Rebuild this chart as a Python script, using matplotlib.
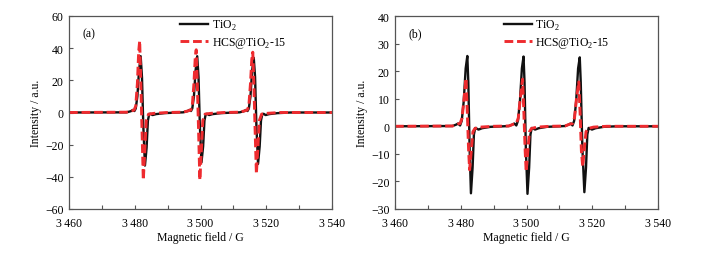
import matplotlib
matplotlib.use("Agg")
import matplotlib.pyplot as plt

plt.rcParams['font.family'] = ['Liberation Serif', 'DejaVu Serif']
plt.rcParams['mathtext.fontset'] = 'custom'
plt.rcParams['mathtext.rm'] = 'Liberation Serif'
plt.rcParams['font.size'] = 8.5

# panel (a)
a_tio2_field = [3460, 3477.5, 3478.8, 3479.4, 3479.9, 3480.3, 3480.8, 3481.3, 3481.8, 3482.2, 3482.6, 3483.1,
                3483.6, 3484.0, 3484.4, 3484.8, 3485.4, 3486.5, 3489.0, 3493.0,
                3494.7, 3496.0, 3496.6, 3497.1, 3497.5, 3498.0, 3498.5, 3499.0, 3499.4, 3499.8, 3500.3,
                3500.8, 3501.2, 3501.6, 3502.0, 3502.6, 3503.7, 3506.2, 3510.2,
                3511.9, 3513.2, 3513.8, 3514.3, 3514.7, 3515.2, 3515.7, 3516.2, 3516.6, 3517.0, 3517.5,
                3518.0, 3518.4, 3518.8, 3519.2, 3519.8, 3520.9, 3523.4, 3527.4, 3540]
a_tio2_int = [0, 0.1, 0.8, 1.6, 0.9, 2.5, 10, 26, 35, 22, -8, -33,
              -22, -5, -1.0, -0.8, -1.6, -1.0, -0.4, 0,
              0.1, 0.8, 1.6, 0.9, 2.5, 10, 26, 35, 22, -8, -31,
              -21, -5, -1.0, -0.8, -1.6, -1.0, -0.4, 0,
              0.1, 0.8, 1.6, 0.9, 2.5, 10, 26, 34, 22, -8, -32,
              -21, -5, -1.0, -0.8, -1.6, -1.0, -0.4, 0, 0]

a_hcs_field = [3460, 3477.5, 3479.0, 3479.8, 3480.3, 3480.8, 3481.2, 3481.5, 3481.8, 3482.2, 3482.6, 3483.0,
               3483.5, 3484.2, 3486.0, 3490.0,
               3494.7, 3496.2, 3497.0, 3497.5, 3498.0, 3498.4, 3498.7, 3499.0, 3499.4, 3499.8, 3500.2,
               3500.7, 3501.4, 3503.2, 3507.2,
               3511.9, 3513.4, 3514.2, 3514.7, 3515.2, 3515.6, 3515.9, 3516.2, 3516.6, 3517.0, 3517.4,
               3517.9, 3518.6, 3520.4, 3524.4, 3540]
a_hcs_int = [0, 0.2, 1.0, 1.5, 4, 18, 38, 44.5, 22, -10, -42, -26,
             -5, -1.0, -0.5, 0,
             0.2, 1.0, 1.5, 4, 18, 34, 39, 20, -10, -42, -26,
             -5, -1.0, -0.5, 0,
             0.2, 1.0, 1.5, 4, 18, 33, 37.5, 20, -10, -38, -24,
             -5, -1.0, -0.5, 0, 0]

# panel (b)
b_tio2_field = [3460, 3477.5, 3478.6, 3479.2, 3479.8, 3480.3, 3480.9, 3481.5, 3482.0, 3482.3, 3482.7, 3483.1,
                3483.6, 3484.0, 3484.4, 3484.8, 3485.4, 3486.5, 3489.0, 3493.0,
                3494.6, 3495.7, 3496.3, 3496.9, 3497.4, 3498.0, 3498.6, 3499.1, 3499.4, 3499.8, 3500.3,
                3500.8, 3501.2, 3501.6, 3502.0, 3502.6, 3503.7, 3506.2, 3510.2,
                3511.7, 3512.8, 3513.4, 3514.0, 3514.5, 3515.1, 3515.7, 3516.2, 3516.5, 3517.0, 3517.6,
                3518.1, 3518.5, 3518.9, 3519.3, 3519.9, 3521.0, 3523.5, 3527.5, 3540]
b_tio2_int = [0, 0.1, 0.6, 1.0, 0.3, 2, 9, 21, 25.5, 16, -8, -24.3,
              -15, -3, -0.6, -0.8, -1.2, -0.7, -0.2, 0,
              0.1, 0.6, 1.0, 0.3, 2, 9, 21, 25.3, 16, -8, -24.5,
              -15, -3, -0.6, -0.8, -1.2, -0.7, -0.2, 0,
              0.1, 0.6, 1.0, 0.3, 2, 9, 21, 25, 16, -8, -23.9,
              -15, -3, -0.6, -0.8, -1.2, -0.7, -0.2, 0, 0]

b_hcs_field = [3460, 3477.5, 3479.0, 3479.8, 3480.4, 3481.0, 3481.6, 3482.0, 3482.4, 3482.7, 3483.2,
               3483.7, 3484.3, 3486.0, 3490.0,
               3494.6, 3496.1, 3496.9, 3497.5, 3498.1, 3498.8, 3499.2, 3499.6, 3499.9, 3500.4,
               3500.9, 3501.5, 3503.2, 3507.2,
               3511.7, 3513.2, 3514.0, 3514.6, 3515.2, 3515.9, 3516.3, 3516.7, 3517.1, 3517.6,
               3518.1, 3518.7, 3520.4, 3524.4, 3540]
b_hcs_int = [0, 0.1, 0.8, 1.0, 3, 10, 17.4, 5, -9, -15.8, -9,
             -2, -0.8, -0.3, 0,
             0.1, 0.8, 1.0, 3, 10, 17.1, 5, -9, -16.4, -9,
             -2, -0.8, -0.3, 0,
             0.1, 0.8, 1.0, 3, 10, 16.1, 5, -9, -14.6, -8,
             -2, -0.8, -0.3, 0, 0]

x_ticks = [3460, 3480, 3500, 3520, 3540]
x_ticklabels = ['3\u2009460', '3\u2009480', '3\u2009500', '3\u2009520', '3\u2009540']
a_yticks = [-60, -40, -20, 0, 20, 40, 60]
b_yticks = [-30, -20, -10, 0, 10, 20, 30, 40]

black = '#111111'
red = '#ee2b2f'
spine = '#555555'

fig = plt.figure(figsize=(7.01, 2.55), dpi=100)
ax_a = fig.add_axes([69 / 701, 45 / 255, 263 / 701, 193 / 255])
ax_b = fig.add_axes([395 / 701, 45 / 255, 263 / 701, 193 / 255])

panels = [
    (ax_a, a_tio2_field, a_tio2_int, a_hcs_field, a_hcs_int, a_yticks, (-60, 60), '(a)', 0.414),
    (ax_b, b_tio2_field, b_tio2_int, b_hcs_field, b_hcs_int, b_yticks, (-30, 40), '(b)', 0.406),
]

for ax, f1, i1, f2, i2, yt, ylim, tag, lx in panels:
    ax.plot(f1, i1, color=black, lw=1.7, label=r'TiO$_2$')
    ax.plot(f2, i2, color=red, lw=2.1, dashes=(3.0, 1.3), label=r'HCS@TiO$_2$-15')
    ax.set_xlim(3460, 3540)
    ax.set_ylim(*ylim)
    ax.set_xticks(x_ticks)
    ax.set_xticklabels(x_ticklabels)
    ax.set_xticks([3470, 3490, 3510, 3530], minor=True)
    ax.set_yticks(yt)
    ax.set_yticklabels([str(v).replace('-', '\u2212') for v in yt])
    ax.tick_params(direction='in', length=3, width=0.8, color=spine, labelsize=8.5)
    ax.tick_params(axis='x', pad=6)
    ax.tick_params(axis='y', pad=4)
    ax.tick_params(which='minor', direction='in', length=3, width=0.8, color=spine)
    for s in ax.spines.values():
        s.set_color(spine)
        s.set_linewidth(0.9)
    ax.set_xlabel('Magnetic field / G', fontsize=8.5, labelpad=1)
    ax.set_ylabel('Intensity / a.u.', fontsize=8.5, labelpad=2)
    ax.text(0.053, 0.91, tag, transform=ax.transAxes, fontsize=8.5, va='center')
    ax.legend(loc='upper left', bbox_to_anchor=(lx, 1.0), frameon=False, fontsize=8.5,
              handlelength=2.4, handletextpad=0.3, labelspacing=0.3, borderpad=0.15,
              borderaxespad=0)

fig.savefig('out.png', dpi=100)
